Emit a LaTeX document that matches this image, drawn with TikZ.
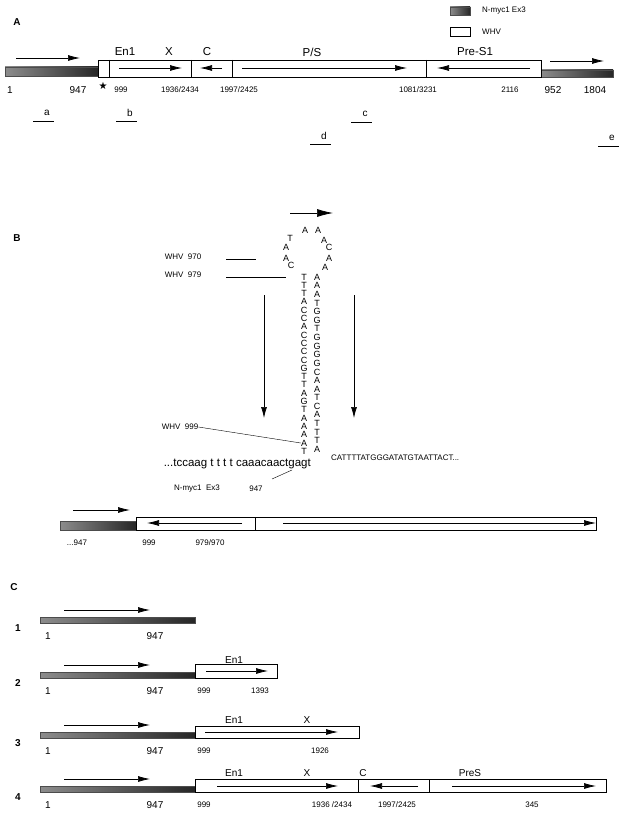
\documentclass[tikz,border=0pt]{standalone}
\usepackage{fontspec}
\setmainfont{Liberation Sans}
\newfontfamily\symfont{DejaVu Sans}
\usetikzlibrary{arrows.meta}

\begin{document}
\begin{tikzpicture}[x=1pt, y=-1pt,
  myc/.style={left color=black!45, right color=black!85, draw=black!70},
  whv/.style={draw, fill=white, line width=0.6pt},
  rd/.style={-{Latex[length=12pt, width=6pt]}, line width=0.7pt},
  sm/.style={font=\fontsize{8}{9}\selectfont, inner sep=0pt},
  md/.style={font=\fontsize{10}{11}\selectfont, inner sep=0pt},
  lg/.style={font=\fontsize{11.5}{12}\selectfont, inner sep=0pt},
  stem/.style={font=\fontsize{9}{9}\selectfont, inner sep=0pt},
  lab/.style={font=\bfseries\fontsize{10}{10}\selectfont, inner sep=0pt}]
\useasboundingbox (0,0) rectangle (626,818);

% panel A
\node[lab] (pA) at (17,22) {A};
\fill[myc] (450,7) rectangle (470,15);
\draw[whv] (450,27) rectangle (470,36);
\node[sm, anchor=west] (lgmyc) at (482,11) {N-myc1 Ex3};
\node[sm, anchor=west] (lgwhv) at (482,32) {WHV};

\fill[myc] (5,67) rectangle (98,76);
\fill[myc] (541,70) rectangle (613,77);
\draw[whv] (98,60) rectangle (541,77);
\foreach \x in {109, 191, 232, 426} \draw (\x,60) -- (\x,77);
\draw[rd] (16,58) -- (80,58);
\draw[rd] (119,68) -- (182,68);
\draw[rd] (222,68) -- (200,68);
\draw[rd] (242,68) -- (407,68);
\draw[rd] (530,68) -- (437,68);
\draw[rd] (550,61) -- (604,61);
\node[lg] (en1) at (125,52) {En1};
\node[lg] (gX) at (169,52) {X};
\node[lg] (gC) at (207,52) {C};
\node[lg] (gPS) at (312,52) {P/S};
\node[lg] (gPre) at (475,52) {Pre-S1};

\node[md] (n1) at (10,90) {1};
\node[md] (n947) at (78,90) {947};
\node[md] (star) at (103,86) {\symfont ★};
\node[sm] (n999) at (121,90) {999};
\node[sm] (n1936) at (180,90) {1936/2434};
\node[sm] (n1997) at (239,90) {1997/2425};
\node[sm] (n1081) at (418,90) {1081/3231};
\node[sm] (n2116) at (510,90) {2116};
\node[md] (n952) at (553,90) {952};
\node[md] (n1804) at (595,90) {1804};

\foreach \nm/\x/\y in {a/33/121, b/116/121, c/351/122, d/310/144, e/598/146} {
  \draw (\x,\y) -- ++(21,0);
  \node[md] (pr\nm) at (\x+14,\y-8) {\nm};
}

% panel B
\node[lab] (pB) at (17,238) {B};
\draw[line width=0.7pt, -{Latex[length=16pt, width=8pt]}] (290,213) -- (333,213);
\foreach \l/\x/\y in {A/305/230, A/318/230, T/290/238, A/286/247, A/286/258, C/291/265,
                      A/324/240, C/329/247, A/329/258, A/325/267}
  \node[stem] at (\x,\y) {\l};
\foreach \l [count=\i] in {T,T,T,A,C,C,A,C,C,C,C,G,T,T,A,G,T,A,A,A,A,T}
  \node[stem] (L\i) at (304,{268.7+8.3*\i}) {\l};
\foreach \l [count=\i] in {A,A,A,T,G,G,T,G,G,G,G,C,A,A,T,C,A,T,T,T,A}
  \node[stem] (R\i) at (317,{268.7+8.6*\i}) {\l};

\node[sm] (w970) at (183,257) {WHV\ \ 970};
\node[sm] (w979) at (183,275) {WHV\ \ 979};
\draw (226,259) -- (256,259);
\draw (226,277) -- (286,277);
\draw[line width=0.7pt, -{Latex[length=11pt, width=6pt]}] (264,295) -- (264,418);
\draw[line width=0.7pt, -{Latex[length=11pt, width=6pt]}] (354,295) -- (354,418);

\node[sm] (w999) at (180,427) {WHV\ \ 999};
\draw (w999.east) -- (L21.west);
\node[lg, anchor=east] (seqL) at (311,464) {...tccaag t t t t caaacaactgagt};
\node[sm, anchor=west] (seqR) at (331,458) {CATTTTATGGGATATGTAATTACT...};
\coordinate (jn) at (292,470);
\coordinate (jt) at (272,479);
\draw (jn) -- (jt);
\node[sm] (nmyc) at (197,489) {N-myc1\ \ Ex3};
\node[sm] (b947) at (256,489) {947};

\fill[myc] (60,521) rectangle (136,530);
\draw[whv] (136,517) rectangle (596,530);
\draw (255,517) -- (255,530);
\draw[rd] (73,510) -- (130,510);
\draw[rd] (242,523) -- (147,523);
\draw[rd] (283,523) -- (596,523);
\node[sm] (b947b) at (77,543) {...947};
\node[sm] (b999) at (149,543) {999};
\node[sm] (b979) at (210,543) {979/970};

% panel C
\node[lab] (pC) at (14,587) {C};
\foreach \r/\y in {1/610, 2/665, 3/725, 4/779} {
  \fill[myc] (40,\y+7) rectangle (195,\y+13);
  \draw[rd] (64,\y) -- (150,\y);
  \node[lab] (row\r) at (18,\y+18) {\r};
  \node[md] (c1\r) at (48,\y+26) {1};
  \node[md] (c947\r) at (155,\y+26) {947};
}
% construct 2
\draw[whv] (195,664) rectangle (277,678);
\draw[rd] (206,671) -- (268,671);
\node[md] (cen2) at (234,660) {En1};
\node[sm] (c999b) at (204,691) {999};
\node[sm] (c1393) at (260,691) {1393};
% construct 3
\draw[whv] (195,726) rectangle (359,738);
\draw[rd] (205,732) -- (338,732);
\node[md] (cen3) at (234,720) {En1};
\node[md] (cX3) at (307,720) {X};
\node[sm] (c999c) at (204,751) {999};
\node[sm] (c1926) at (320,751) {1926};
% construct 4
\draw[whv] (195,779) rectangle (606,792);
\draw (358,779) -- (358,792);
\draw (429,779) -- (429,792);
\draw[rd] (217,786) -- (338,786);
\draw[rd] (418,786) -- (370,786);
\draw[rd] (452,786) -- (596,786);
\node[md] (cen4) at (234,773) {En1};
\node[md] (cX4) at (307,773) {X};
\node[md] (cC4) at (363,773) {C};
\node[md] (cPre4) at (470,773) {PreS};
\node[sm] (c999d) at (204,805) {999};
\node[sm] (c1936) at (332,805) {1936 /2434};
\node[sm] (c1997) at (397,805) {1997/2425};
\node[sm] (c345) at (532,805) {345};
\end{tikzpicture}
\end{document}
